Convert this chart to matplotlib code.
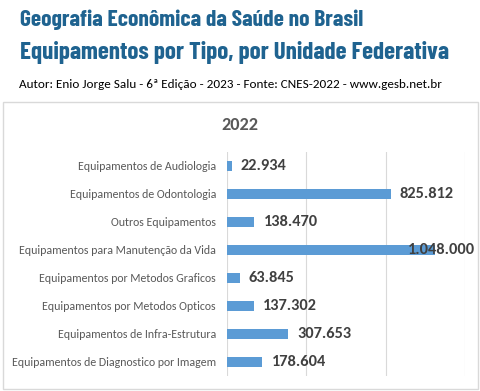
import matplotlib.pyplot as plt
from matplotlib.patches import Rectangle
from matplotlib import font_manager

categorias = [
    'Equipamentos de Audiologia',
    'Equipamentos de Odontologia',
    'Outros Equipamentos',
    'Equipamentos para Manutenção da Vida',
    'Equipamentos por Metodos Graficos',
    'Equipamentos por Metodos Opticos',
    'Equipamentos de Infra-Estrutura',
    'Equipamentos de Diagnostico por Imagem',
]
valores = [22934, 825812, 138470, 1048000, 63845, 137302, 307653, 178604]
ano = '2022'

titulo1 = 'Geografia Econômica da Saúde no Brasil'
titulo2 = 'Equipamentos por Tipo, por Unidade Federativa'
subtitulo = 'Autor: Enio Jorge Salu - 6ª Edição - 2023 - Fonte: CNES-2022 - www.gesb.net.br'

nomes = {f.name for f in font_manager.fontManager.ttflist}


def escolhe(opcoes):
    for o in opcoes:
        if o in nomes:
            return o
    return 'DejaVu Sans'


fonte_titulo = escolhe(['Barlow Condensed', 'Saira ExtraCondensed', 'Asap Condensed',
                        'Roboto Condensed', 'Pathway Gothic One'])
fonte_texto = escolhe(['Carlito', 'Lato', 'Open Sans'])


def fmt(v):
    return f'{v:,}'.replace(',', '.')


W, H = 481, 391
fig = plt.figure(figsize=(W / 100, H / 100), dpi=100)
renderer = fig.canvas.get_renderer()


def ajusta(t, largura):
    # ajusta o tamanho da fonte para a largura medida na referencia
    bb = t.get_window_extent(renderer)
    t.set_fontsize(t.get_fontsize() * largura / bb.width)


# cabeçalho
t1 = fig.text(20 / W, 1 - 20 / H, titulo1, fontsize=20, fontweight='bold', color='#1F6390',
              family=fonte_titulo, va='center', ha='left')
ajusta(t1, 343)
t2 = fig.text(20 / W, 1 - 52 / H, titulo2, fontsize=24, fontweight='bold', color='#1F6390',
              family=fonte_titulo, va='center', ha='left')
ajusta(t2, 430)
t3 = fig.text(19 / W, 1 - 85 / H, subtitulo, fontsize=8, color='#000000',
              family=fonte_texto, va='center', ha='left')
ajusta(t3, 422)

# moldura do grafico
fig.patches.append(Rectangle((3 / W, 1 - 389 / H), 475 / W, 287 / H, transform=fig.transFigure,
                             facecolor='white', edgecolor='#D9D9D9', linewidth=1, zorder=0))
t4 = fig.text(240 / W, 1 - 125 / H, ano, fontsize=13, fontweight='bold', color='#595959',
              family=fonte_texto, ha='center', va='center', zorder=5)
ajusta(t4, 37)

ax = fig.add_axes([227 / W, 1 - 376 / H, 238 / W, 224 / H], zorder=2)
y = list(range(len(categorias)))
ax.barh(y, valores, height=0.36, color='#5B9BD5', zorder=3)
ax.set_xlim(0, 1200000)
ax.set_ylim(len(categorias) - 0.5, -0.5)
ax.set_xticks([0, 400000, 800000, 1200000])
ax.xaxis.grid(True, color='#D9D9D9', linewidth=0.8, zorder=0)
ax.tick_params(axis='x', bottom=False, labelbottom=False)
ax.tick_params(axis='y', left=False, pad=4.5)
ax.set_yticks(y)
ax.set_yticklabels(categorias, fontsize=8.6, color='#595959', family=fonte_texto)
for s in ax.spines.values():
    s.set_visible(False)
ax.patch.set_alpha(0)

xmax = ax.get_xlim()[1]
for i, v in enumerate(valores):
    if v > 0.85 * xmax:
        ax.annotate(fmt(v), (xmax, i), xytext=(7.5, 0), textcoords='offset points',
                    ha='right', va='center', fontsize=11.8, fontweight='bold', color='#404040',
                    family=fonte_texto, zorder=4)
    else:
        ax.annotate(fmt(v), (v, i), xytext=(6.5, 0), textcoords='offset points',
                    ha='left', va='center', fontsize=11.8, fontweight='bold', color='#404040',
                    family=fonte_texto, zorder=4)

fig.savefig('out.png', dpi=100)
